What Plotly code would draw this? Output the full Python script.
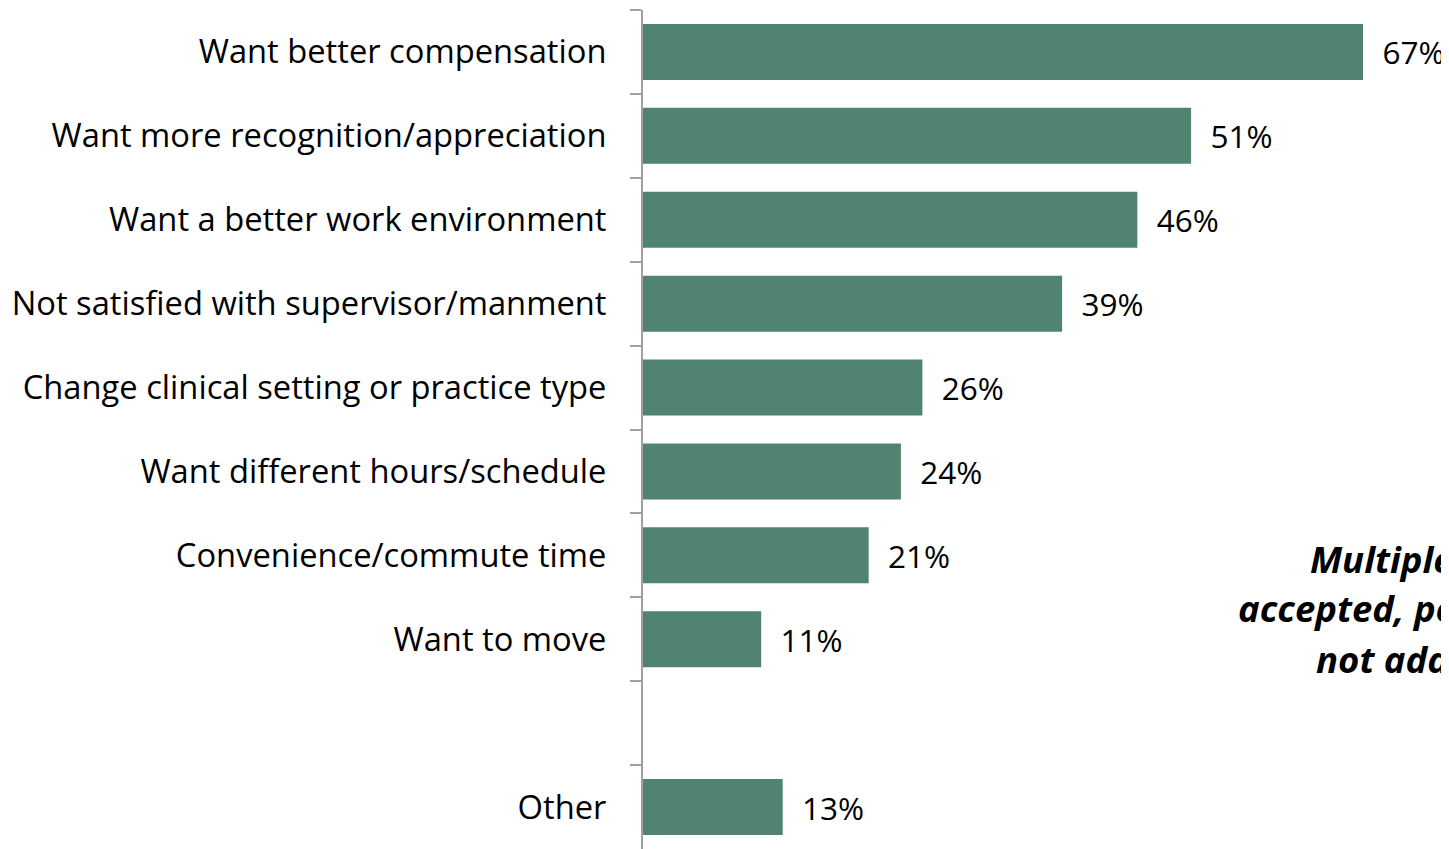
import plotly.graph_objects as go

categories = [
    "Want better compensation",
    "Want more recognition/appreciation",
    "Want a better work environment",
    "Not satisfied with supervisor/manment",
    "Change clinical setting or practice type",
    "Want different hours/schedule",
    "Convenience/commute time",
    "Want to move",
    " ",
    "Other",
]
values = [67, 51, 46, 39, 26, 24, 21, 11, None, 13]
note_lines = ["Multiple responses", "accepted, percentages do", "not add to 100%"]

BAR = "#518470"
FONT = "Open Sans"
AXIS = "#A0A0A0"

# The page body has an 8px margin; size the figure so it ends at the window edge.
OFF = 8
W, H = 1449 - OFF, 849 - OFF
L, T = 643 - OFF, 10 - OFF
PW, PH = W - L, H - T


def px_x(sx):
    return (sx - (L + OFF)) / PW


def px_y(sy):
    return ((T + OFF + PH) - sy) / PH


fig = go.Figure(
    go.Bar(
        x=values,
        y=categories,
        orientation="h",
        width=0.667,
        marker=dict(color=BAR, line=dict(width=0)),
        text=[f"{v}%" if v is not None else "" for v in values],
        texttemplate="&nbsp;&nbsp;%{text}",
        textposition="outside",
        textfont=dict(family=FONT, size=31.5, color="#000000"),
        cliponaxis=False,
        constraintext="none",
    )
)

note_left = [1308, 1236, 1314]
note_base = [572, 621, 672]
annotations = []
for line, sx, sy in zip(note_lines, note_left, note_base):
    annotations.append(
        dict(
            text="<b><i>" + line + "</i></b>",
            xref="paper",
            yref="paper",
            x=px_x(sx),
            y=px_y(sy - 13),
            xanchor="left",
            yanchor="middle",
            showarrow=False,
            font=dict(family=FONT, size=36.5, color="#000000"),
        )
    )

fig.update_layout(
    width=W,
    height=H,
    margin=dict(l=L, r=0, t=T, b=0),
    plot_bgcolor="white",
    paper_bgcolor="white",
    showlegend=False,
    font=dict(family=FONT, color="#000000"),
    xaxis=dict(range=[0, 75], visible=False, fixedrange=True),
    yaxis=dict(
        type="category",
        categoryorder="array",
        categoryarray=categories,
        autorange="reversed",
        tickson="boundaries",
        ticks="outside",
        ticklen=11,
        tickwidth=2,
        tickcolor=AXIS,
        showline=True,
        linecolor=AXIS,
        linewidth=2,
        showgrid=False,
        ticklabelstandoff=28,
        tickfont=dict(family=FONT, size=32.7, color="#000000"),
    ),
    annotations=annotations,
)

fig.write_html("out.html")
